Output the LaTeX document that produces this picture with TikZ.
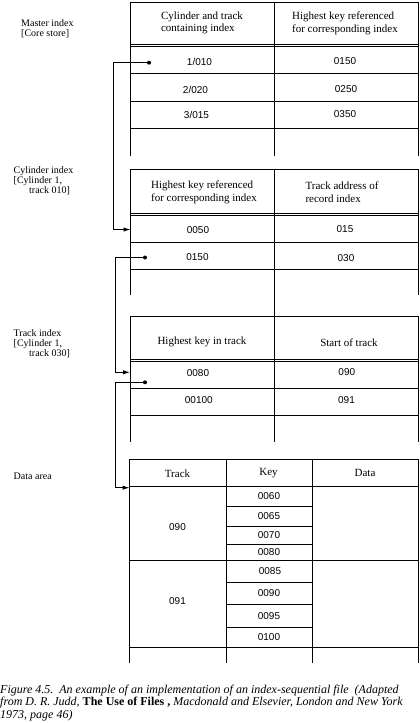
\documentclass[tikz,border=0pt]{standalone}
\usepackage{fontspec}
\setmainfont{Liberation Serif}
\setsansfont{Liberation Sans}
\usetikzlibrary{arrows.meta}

\tikzset{
  tabline/.style={line width=1pt},
  hdr/.style={font=\fontsize{11}{12.7}\selectfont, align=left, inner sep=0pt},
  lbl/.style={font=\fontsize{10}{10}\selectfont, align=left, anchor=west, inner sep=0pt},
  val/.style={font=\sffamily\fontsize{10}{12}\selectfont, inner sep=0pt},
  link/.style={line width=1pt, -{Latex[length=7pt,width=4.5pt]}},
  pin/.style={circle, fill, inner sep=0pt, minimum size=4pt},
  captext/.style={font=\itshape\fontsize{12}{12.3}\selectfont, align=left, anchor=west, inner sep=0pt},
}

\begin{document}
\begin{tikzpicture}[x=1pt,y=-1pt]
\useasboundingbox (0,0) rectangle (420,723);

\draw[tabline] (130,155.7) -- (130,2) -- (418,2) -- (418,155.7);
\draw[tabline] (274.5,2) -- (274.5,155.7);
\draw[tabline] (130,44) -- (418,44) (130,46.5) -- (418,46.5);
\foreach \y in {73.3,101,128.3}
  \draw[tabline] (130,\y) -- (418,\y);

\draw[tabline] (130.5,295) -- (130.5,169.3) -- (418,169.3) -- (418,295);
\draw[tabline] (274.5,169.3) -- (274.5,316);
\draw[tabline] (130.5,213.3) -- (418,213.3) (130.5,215.5) -- (418,215.5);
\foreach \y in {242,269}
  \draw[tabline] (130.5,\y) -- (418,\y);

\draw[tabline] (130,441.7) -- (130,316) -- (418,316) -- (418,441.7);
\draw[tabline] (274.5,316) -- (274.5,441.7);
\draw[tabline] (130,359.3) -- (418,359.3) (130,361.5) -- (418,361.5);
\foreach \y in {388.3,415.7}
  \draw[tabline] (130,\y) -- (418,\y);

\draw[tabline] (129.5,663.3) -- (129.5,459.3) -- (418,459.3) -- (418,663.3);
\draw[tabline] (226,459.3) -- (226,663.3) (312,459.3) -- (312,663.3);
\foreach \y in {486,560,647.5}
  \draw[tabline] (129.5,\y) -- (418,\y);
\foreach \y in {506.7,526,544.3,582.3,604.3,627}
  \draw[tabline] (226,\y) -- (312,\y);

\node[lbl] (mlbl) at (21,29) {Master index\\{[Core store]}};
\node[lbl] (clbl) at (13.5,180.5) {Cylinder index\\{[Cylinder 1,}\\\hspace*{15.5pt}track 010]};
\node[lbl] (tlbl) at (13.5,343.3) {Track index\\{[Cylinder 1,}\\\hspace*{15.5pt}track 030]};
\node[lbl] (dlbl) at (13.5,476) {Data area};

\node[hdr] (mh1) at (202,23) {Cylinder and track\\containing index};
\node[hdr] (mh2) at (345,23) {Highest key referenced\\for corresponding index};
\node[val] (m11) at (199.5,62) {1/010};
\node[val] (m12) at (345,61.5) {0150};
\node[val] (m21) at (195.5,89.5) {2/020};
\node[val] (m22) at (346,89.5) {0250};
\node[val] (m31) at (196.5,115) {3/015};
\node[val] (m32) at (345,114) {0350};

\node[hdr] (ch1) at (204,192.3) {Highest key referenced\\for corresponding index};
\node[hdr] (ch2) at (342,192.3) {Track address of\\record index};
\node[val] (c11) at (198,230) {0050};
\node[val] (c12) at (345,229.5) {015};
\node[val] (c21) at (197.5,257) {0150};
\node[val] (c22) at (346,258) {030};

\node[hdr] (th1) at (202,342.3) {Highest key in track};
\node[hdr] (th2) at (349,342.3) {Start of track};
\node[val] (t11) at (198,373.3) {0080};
\node[val] (t12) at (346.8,372) {090};
\node[val] (t21) at (198.8,400) {00100};
\node[val] (t22) at (346.5,400) {091};

\node[hdr] (dh1) at (177.5,474) {Track};
\node[hdr] (dh2) at (268.5,473) {Key};
\node[hdr] (dh3) at (365,473) {Data};
\node[val] (trk1) at (177.5,527) {090};
\node[val] (trk2) at (177.5,601) {091};
\node[val] (k1) at (269,496.3) {0060};
\node[val] (k2) at (269,516.3) {0065};
\node[val] (k3) at (269,535.2) {0070};
\node[val] (k4) at (269,552.5) {0080};
\node[val] (k5) at (270,571) {0085};
\node[val] (k6) at (269,593.3) {0090};
\node[val] (k7) at (269,615.7) {0095};
\node[val] (k8) at (269,637.3) {0100};

\node[pin] (p1) at (149,62.7) {};
\node[pin] (p2) at (145,257.5) {};
\node[pin] (p3) at (145,382.3) {};
\coordinate (a1) at (130.5,229.5);
\coordinate (a2) at (130,372.3);
\coordinate (a3) at (129.5,487.7);
\draw[link] (p1.center) -- ++(-35.7,0) |- (a1);
\draw[link] (p2.center) -- ++(-30,0) |- (a2);
\draw[link] (p3.center) -- ++(-30,0) |- (a3);

\node[captext] (caption) at (0,703) {Figure 4.5.\ \ An example of an implementation of an index-sequential file\ \ (Adapted\\
from D. R. Judd, \textup{\textbf{The Use of Files ,}} Macdonald and Elsevier, London and New York\\
1973, page 46)};

\end{tikzpicture}
\end{document}
